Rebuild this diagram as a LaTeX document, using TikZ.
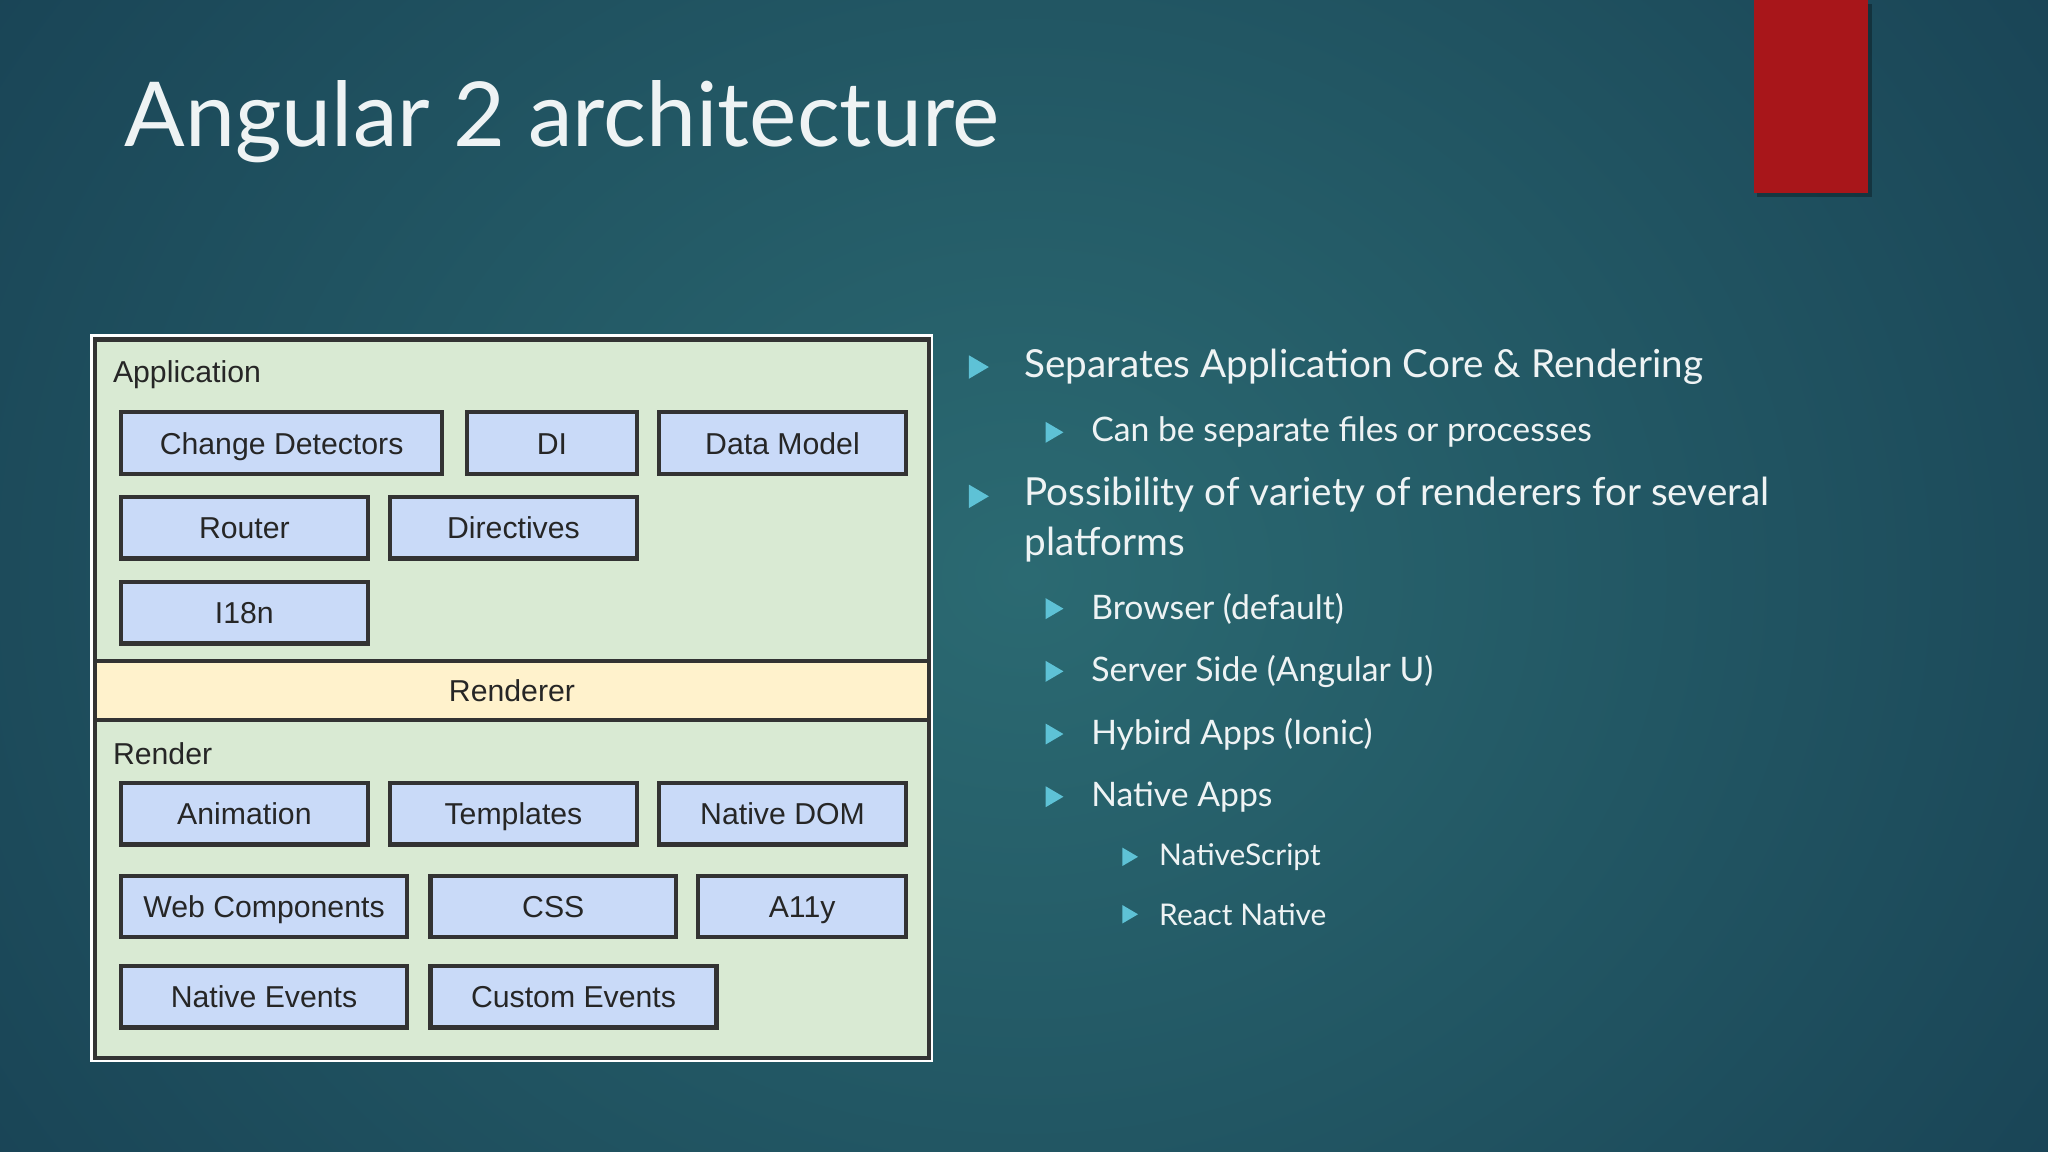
\documentclass[tikz,border=0pt]{standalone}
\usepackage{fontspec}
\setmainfont{Lato}
\newfontfamily\arialf{Liberation Sans}
\begin{document}
\begin{tikzpicture}[x=0.013061cm,y=-0.013061cm,
  box/.style={draw=black!80,line width=1.2pt,fill=boxblue,font=\arialf\fontsize{8.6}{9}\selectfont,text=black!85,inner sep=0,text height=1.6ex,text depth=0.35ex},
  lab/.style={anchor=west,font=\arialf\fontsize{8.6}{9}\selectfont,text=black!85,inner sep=0},
  t1/.style={anchor=west,text=txt,inner sep=0,font=\fontsize{11}{14}\selectfont},
  t2/.style={anchor=west,text=txt,inner sep=0,font=\fontsize{9.6}{12}\selectfont},
  t3/.style={anchor=west,text=txt,inner sep=0,font=\fontsize{8.5}{11}\selectfont}]
\definecolor{bgout}{HTML}{173F52}
\definecolor{bgin}{HTML}{2B6A72}
\definecolor{boxblue}{HTML}{C9DAF8}
\definecolor{green}{HTML}{D9EAD3}
\definecolor{yel}{HTML}{FFF2CC}
\definecolor{bulc}{HTML}{5EC2D6}
\definecolor{txt}{HTML}{EEF3F4}
\definecolor{redr}{HTML}{A8161A}
\useasboundingbox (0,0) rectangle (1568,882);
\shade[inner color=bgin,outer color=bgout] (-300,-500) rectangle (1868,1382);
\fill[black,opacity=0.3] (1345,3) rectangle (1433,151);
\fill[redr] (1343,0) rectangle (1430,148);
\node[anchor=base west,inner sep=0,text=txt,font=\fontsize{25.5}{30}\selectfont] (title) at (95,112) {Angular 2 architecture};
% diagram
\fill[white] (69,256) rectangle (714,813);
\draw[fill=green,draw=black!80,line width=1.2pt] (73,260) rectangle (711,810);
\draw[fill=yel,draw=black!80,line width=1.2pt] (73,506) rectangle (711,551);
\node[font=\arialf\fontsize{8.6}{9}\selectfont,text=black!85] (renderer) at (392,529) {Renderer};
\node[lab] (app) at (86,287) {Application};
\node[lab] (render) at (86,577) {Render};
\foreach \n/\a/\b/\c/\d/\t in {cd/91/314/337/361/Change Detectors, di/356/314/486/361/DI, dm/503/314/692/361/Data Model,
 ro/91/379/280/426/Router, dir/297/379/486/426/Directives, i18/91/444/280/491/I18n,
 an/91/598/280/645/Animation, te/297/598/486/645/Templates, nd/503/598/692/645/Native DOM,
 wc/91/669/310/716/Web Components, css/328/669/516/716/CSS, a11/533/669/692/716/A11y,
 ne/91/738/310/785/Native Events, ce/328/738/547/785/Custom Events}
 {\fill[black!30] (\a+2,\b+2) rectangle (\c+2,\d+2);
  \node[box,minimum width={(\c-\a)*0.013061cm},minimum height={(\d-\b)*0.013061cm},anchor=north west] (\n) at (\a,\b) {\t};}
% bullets
\foreach \x/\y/\s in {749/281/9, 749/380/9, 807/331/8, 807/466/8, 807/514/8, 807/562/8, 807/610/8, 865/656/7, 865/700/7}
 {\fill[bulc] (\x-\s*0.8,\y-\s) -- (\x+\s*0.9,\y) -- (\x-\s*0.8,\y+\s) -- cycle;}
\node[t1] (b1) at (784,281) {Separates Application Core \& Rendering};
\node[t2] (b2) at (835,331) {Can be separate files or processes};
\node[t1,align=left,anchor=north west] (b3) at (784,365) {Possibility of variety of renderers for several\\platforms};
\node[t2] (b4) at (835,466) {Browser (default)};
\node[t2] (b5) at (835,514) {Server Side (Angular U)};
\node[t2] (b6) at (835,562) {Hybird Apps (Ionic)};
\node[t2] (b7) at (835,610) {Native Apps};
\node[t3] (b8) at (887,656) {NativeScript};
\node[t3] (b9) at (887,700) {React Native};
\end{tikzpicture}
\end{document}
